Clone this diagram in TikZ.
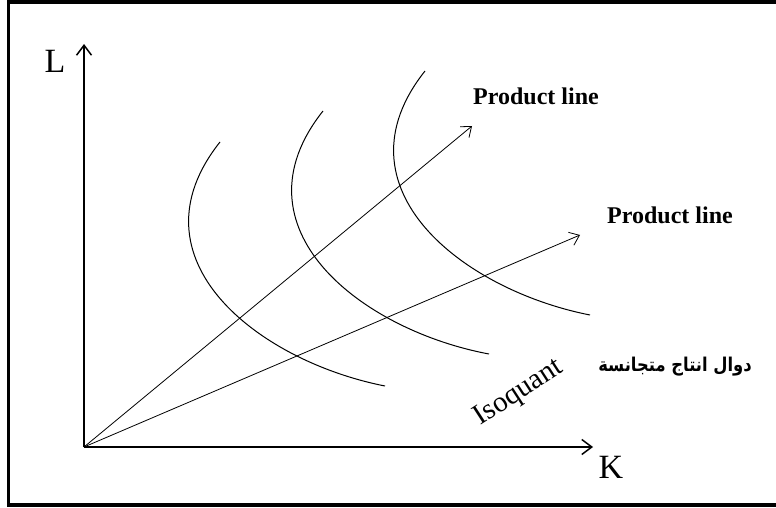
\documentclass[tikz,border=0pt]{standalone}
\usepackage{fontspec}
\setmainfont{Liberation Serif}
\newfontfamily\arabicfont[Script=Arabic,FakeStretch=0.86]{DejaVu Sans}
\TeXXeTstate=1
\usetikzlibrary{arrows.meta}
\begin{document}
\begin{tikzpicture}[x=1pt,y=-1pt,
  axis/.style={line width=1.7pt,-{Straight Barb[length=10pt,width=15pt,line width=1.5pt]}},
  pline/.style={line width=0.8pt,-{Straight Barb[length=9pt,width=14pt,line width=0.8pt]}},
  isoq/.style={line width=1pt},
  lab/.style={font=\fontsize{34}{38}\selectfont,inner sep=0pt},
  plab/.style={font=\bfseries\fontsize{24}{28}\selectfont,inner sep=0pt}]
\useasboundingbox (0,0) rectangle (776,508);
\draw[line width=3.5pt] (8.5,2) rectangle (780,505);
\coordinate (O) at (84,447);
\coordinate (Ltip) at (84,44);
\coordinate (Ktip) at (593,447);
\coordinate (P1tip) at (472,126);
\coordinate (P2tip) at (580,235);
\draw[axis] (O) -- (Ltip);
\draw[axis] (O) -- (Ktip);
\draw[pline] (O) -- (P1tip);
\draw[pline] (O) -- (P2tip);
\draw[isoq] (220,142) .. controls (127,259) and (258,361) .. (385,386);
\draw[isoq] (323,111) .. controls (230,228) and (361,330) .. (489,354);
\draw[isoq] (425,71) .. controls (332,188) and (463,290) .. (590,315);
\node[lab] (L) at (55,61) {L};
\node[lab] (K) at (611,467) {K};
\node[plab] (pl1) at (536,96) {Product line};
\node[plab] (pl2) at (670,215) {Product line};
\node[font=\fontsize{29}{31}\selectfont,inner sep=0pt,rotate=33] (iso) at (519,393) {Isoquant};
\node[font=\arabicfont\bfseries\fontsize{19}{21}\selectfont,inner sep=0pt] (ar) at (675,367) {\beginR دوال انتاج متجانسة\endR};
\end{tikzpicture}
\end{document}
